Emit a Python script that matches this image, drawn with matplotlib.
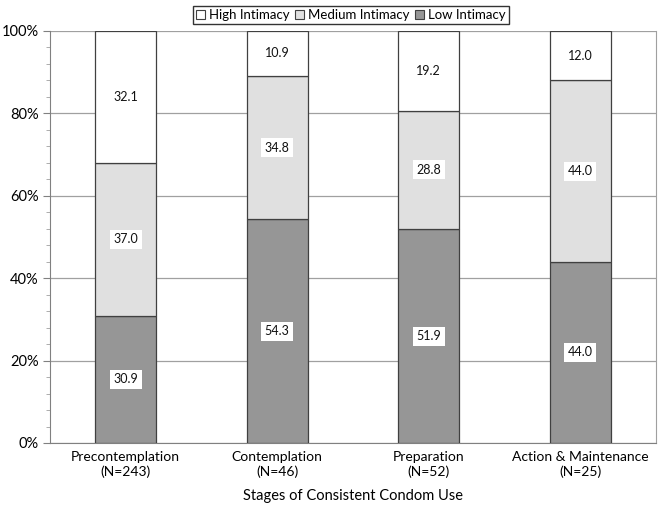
import numpy as np
import matplotlib.pyplot as plt
from matplotlib.ticker import MultipleLocator, FuncFormatter
from matplotlib.patches import Patch

plt.rcParams['font.family'] = ['Lato', 'DejaVu Sans']

stages = ['Precontemplation\n(N=243)', 'Contemplation\n(N=46)',
          'Preparation\n(N=52)', 'Action & Maintenance\n(N=25)']
low = [30.9, 54.3, 51.9, 44.0]
medium = [37.0, 34.8, 28.8, 44.0]
high = [32.1, 10.9, 19.2, 12.0]

series_names = ['High Intimacy', 'Medium Intimacy', 'Low Intimacy']
colors = {'Low Intimacy': '#969696', 'Medium Intimacy': '#e0e0e0', 'High Intimacy': '#ffffff'}
edge = '#404040'

fig = plt.figure(figsize=(6.62, 5.13), dpi=100)
ax = fig.add_axes([50 / 662, 70 / 513, 606 / 662, 412 / 513])

x = np.arange(len(stages))
w = 0.4

# barras apiladas: bajo, medio, alto
bottom = np.zeros(len(stages))
for name, vals in [('Low Intimacy', low), ('Medium Intimacy', medium), ('High Intimacy', high)]:
    vals = np.array(vals)
    ax.bar(x, vals, w, bottom=bottom, color=colors[name], edgecolor=edge, lw=0.9, zorder=3)
    for xi, b, v in zip(x, bottom, vals):
        box = None if name == 'High Intimacy' else dict(facecolor='white', edgecolor='none', pad=2.5)
        ax.text(xi, b + v / 2, f'{v:.1f}', ha='center', va='center', fontsize=9,
                color='#111111', bbox=box, zorder=4)
    bottom += vals

ax.set_xlim(-0.5, 3.5)
ax.set_ylim(0, 100)
ax.yaxis.set_major_locator(MultipleLocator(20))
ax.yaxis.set_minor_locator(MultipleLocator(4))
ax.yaxis.set_major_formatter(FuncFormatter(lambda v, p: f'{v:.0f}%'))
ax.grid(axis='y', color='#a0a0a0', lw=0.9, zorder=0)
ax.tick_params(axis='y', which='major', length=5, color='#808080', labelsize=10.5, pad=3)
ax.tick_params(axis='y', which='minor', length=3, color='#a0a0a0')
ax.set_xticks(x)
ax.set_xticklabels(stages, fontsize=10)
ax.tick_params(axis='x', length=0, pad=6)

ax.spines['top'].set_visible(False)
ax.spines['left'].set_color('#808080')
ax.spines['bottom'].set_color('#808080')
ax.spines['right'].set_color('#a0a0a0')

ax.set_xlabel('Stages of Consistent Condom Use', fontsize=10.5, labelpad=8)

handles = [Patch(facecolor=colors[n], edgecolor=edge, lw=0.8) for n in series_names]
leg = fig.legend(handles, series_names, loc='center', bbox_to_anchor=(351 / 662, 1 - 15 / 513),
                 ncol=3, frameon=True, fontsize=9.5, handlelength=0.7, handleheight=0.7,
                 handletextpad=0.3, columnspacing=0.4, borderpad=0.25, borderaxespad=0,
                 fancybox=False)
leg.get_frame().set_edgecolor('black')
leg.get_frame().set_linewidth(1.0)

plt.savefig('out.png', dpi=100)
